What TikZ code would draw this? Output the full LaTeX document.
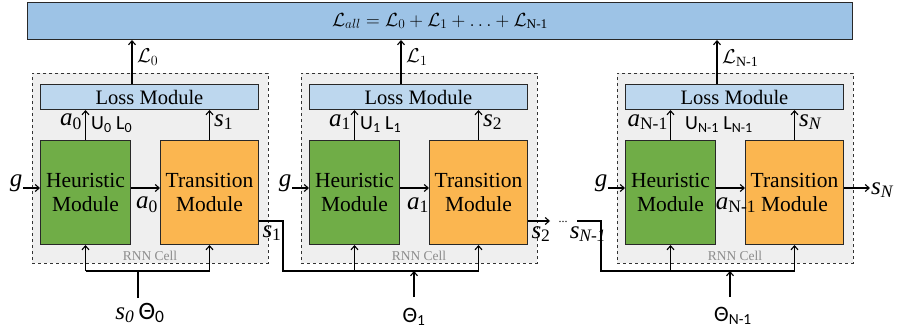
\documentclass[tikz,border=0pt]{standalone}
\usepackage{fix-cm}
\usepackage{amsmath}
\usepackage{fontspec}
\setmainfont{Liberation Serif}
\newfontfamily\sansf{Carlito}
\usetikzlibrary{arrows.meta}
\definecolor{topblue}{RGB}{157,195,230}
\definecolor{lossblue}{RGB}{189,215,238}
\definecolor{heurgreen}{RGB}{112,173,71}
\definecolor{transorange}{RGB}{251,182,80}
\definecolor{cellgray}{RGB}{239,239,239}
\definecolor{edgec}{RGB}{40,40,40}
\newcommand\iv[1]{\textit{#1}}
\begin{document}
\begin{tikzpicture}[x=1pt,y=-1pt,
  wire/.style={line width=1.2pt, draw=black},
  arr/.style={wire, -{Straight Barb[length=4pt,width=7pt,line width=1.1pt]}},
  boxbase/.style={draw=edgec, line width=1pt, inner sep=0pt, anchor=north west},
  topbox/.style={boxbase, fill=topblue},
  cellbox/.style={draw=black!80, dashed, line width=0.8pt, fill=cellgray, inner sep=0pt, anchor=north west},
  lossbox/.style={boxbase, fill=lossblue, font=\fontsize{20.5}{22}\selectfont},
  heurbox/.style={boxbase, fill=heurgreen, align=center, font=\fontsize{21.5}{24}\selectfont},
  transbox/.style={boxbase, fill=transorange, align=center, font=\fontsize{21.5}{24}\selectfont},
  rnn/.style={text=black!45, font=\fontsize{13.5}{14}\selectfont, inner sep=0pt},
  ital/.style={font=\fontsize{25}{26}\selectfont, inner sep=1pt},
  lab/.style={font=\fontsize{20}{22}\selectfont, inner sep=1pt},
  sanslab/.style={font=\fontsize{20}{22}\selectfont\sansf, inner sep=1pt}]
\useasboundingbox (0,0) rectangle (899,334);
\coordinate (yg) at (0,188);
\coordinate (yo) at (0,221);
\coordinate (yb) at (0,271);

\node[topbox, minimum width=825pt, minimum height=37pt, font=\fontsize{19}{21}\selectfont] (top) at (27,2)
  {$\mathcal{L}_{all}=\mathcal{L}_0+\mathcal{L}_1+\ldots+\mathcal{L}_{\text{N-1}}$};

\foreach \x/\i in {32/1,301/2,617/3}{
  \node[cellbox, minimum width=236pt, minimum height=190pt] (c\i) at (\x,73) {};
  \node[lossbox, minimum width=218pt, minimum height=25pt] (l\i) at ({\x+8},84) {Loss Module};
  \node[heurbox, minimum width=90pt, minimum height=104pt] (h\i) at ({\x+8},140) {Heuristic\\Module};
  \node[transbox, minimum width=98pt, minimum height=104pt] (t\i) at ({\x+128},140) {Transition\\Module};
  \node[rnn] (r\i) at ({\x+118},256) {RNN Cell};
  \coordinate (lo\i) at ({\x+100},84);
  \draw[arr] (lo\i) -- (lo\i |- top.south);
  \draw[arr] (h\i.north) -- (h\i.north |- l\i.south);
  \draw[arr] (t\i.north) -- (t\i.north |- l\i.south);
  \draw[arr] (h\i.east |- yg) -- (t\i.west |- yg);
  \node[ital] (g\i) at ({\x-16},183) {\iv{g}};
  \draw[arr] (g\i.east |- yg) -- (h\i.west |- yg);
  \draw[wire] (h\i.south |- yb) -- (t\i.south |- yb);
  \draw[arr] (h\i.south |- yb) -- (h\i.south);
  \draw[arr] (t\i.south |- yb) -- (t\i.south);
}

% cell 1 labels
\node[lab, anchor=west] (L0) at (136,57) {$\mathcal{L}_0$};
\node[ital, anchor=east] (a0t) at (83,122) {\iv{a}\textsubscript{0}};
\node[sanslab, anchor=west] (ul0) at (90,125) {U\textsubscript{0} L\textsubscript{0}};
\node[ital, anchor=west] (s1t) at (213,122) {\iv{s}\textsubscript{1}};
\node[ital] (a0m) at (147,205) {\iv{a}\textsubscript{0}};
\node[ital] (s1m) at (272,233) {\iv{s}\textsubscript{1}};
\node[ital] (in0) at (140,313) {\iv{s\textsubscript{0}}\,{\sansf Θ\textsubscript{0}}};
\coordinate (s0a) at (138,298);
\draw[wire] (s0a) -- (s0a |- yb);
\coordinate (j1) at (283,221);
\draw[wire] (t1.east |- yo) -- (j1) |- (t2.south |- yb);

% cell 2 labels
\node[lab, anchor=west] (L1) at (405,57) {$\mathcal{L}_1$};
\node[ital, anchor=east] (a1t) at (352,122) {\iv{a}\textsubscript{1}};
\node[sanslab, anchor=west] (ul1) at (359,125) {U\textsubscript{1} L\textsubscript{1}};
\node[ital, anchor=west] (s2t) at (482,122) {\iv{s}\textsubscript{2}};
\node[ital] (a1m) at (418,205) {\iv{a}\textsubscript{1}};
\node[ital] (s2m) at (541,234) {\iv{s}\textsubscript{2}};
\node[sanslab, font=\fontsize{22}{24}\selectfont\sansf] (th1) at (414,317) {Θ\textsubscript{1}};
\coordinate (th1a) at (414,297);
\draw[arr] (th1a) -- (th1a |- yb);
\coordinate (e2) at (550,221);
\draw[arr] (t2.east |- yo) -- (e2);
\node[font=\fontsize{12}{12}\selectfont, inner sep=0pt] (dots) at (563,222) {...};
\node[ital] (sn1) at (588,234) {\iv{s\textsubscript{N-1}}};

% cell 3 labels
\node[lab, anchor=west] (LN) at (721,58) {$\mathcal{L}_{\text{N-1}}$};
\node[ital, anchor=east] (aNt) at (669,122) {\iv{a}\textsubscript{N-1}};
\node[sanslab, anchor=west] (ulN) at (684,125) {U\textsubscript{N-1} L\textsubscript{N-1}};
\node[ital, anchor=west] (sNt) at (798,122) {\iv{s\textsubscript{N}}};
\node[ital] (aNm) at (736,205) {\iv{a}\textsubscript{N-1}};
\node[sanslab, font=\fontsize{22}{24}\selectfont\sansf] (thN) at (733,316) {Θ\textsubscript{N-1}};
\coordinate (thNa) at (730,297);
\draw[arr] (thNa) -- (thNa |- yb);
\coordinate (j3) at (577,221);
\coordinate (k3) at (601,221);
\draw[wire] (j3) -- (k3) |- (t3.south |- yb);
\node[ital, anchor=west] (sN) at (870,190) {\iv{s\textsubscript{N}}};
\draw[arr] (t3.east |- yg) -- (sN.west |- yg);
\end{tikzpicture}
\end{document}
